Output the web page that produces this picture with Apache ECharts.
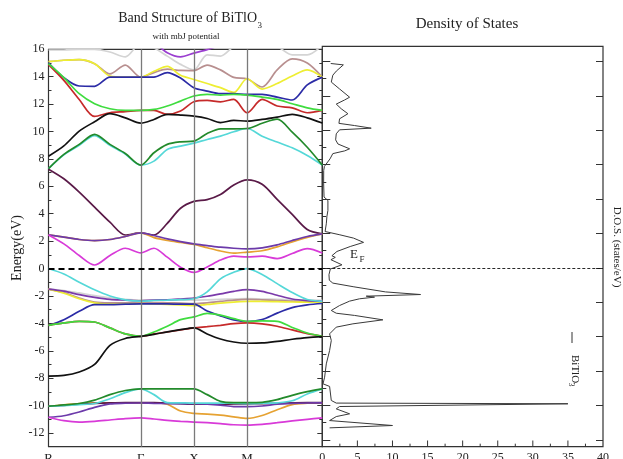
<!DOCTYPE html>
<html>
<head>
<meta charset="utf-8">
<script src="https://cdn.jsdelivr.net/npm/echarts@6.0.0/dist/echarts.min.js"></script>
<style>
  html, body { margin: 0; padding: 0; background: #fff; }
  #main { width: 623px; height: 459px; }
</style>
</head>
<body>
<div id="main"></div>
<script>
// k-path R - Γ - X - M - Γ (simple cubic, units of 2π/a)
const kLabels = ['R', 'Γ', 'X', 'M'];
const kTicks = [0, 0.866, 1.366, 1.866];
const kEnd = 2.573;
const kPts = [0, 0.1443, 0.2887, 0.433, 0.5774, 0.7217, 0.866, 0.991, 1.116, 1.241, 1.366,
  1.491, 1.616, 1.741, 1.866, 2.0074, 2.1488, 2.2902, 2.4316, 2.573];

// semicore bands (-9 .. -11.5 eV)
const semiMagenta = [-10.85, -11.1, -11.2, -11.15, -11.05, -10.95, -10.9, -10.98, -11.08, -11.15, -11.2, -11.25, -11.32, -11.4, -11.43, -11.37, -11.25, -11.12, -11.0, -10.9];
const semiViolet = [-10.85, -10.74, -10.47, -10.13, -9.88, -9.83, -9.81, -9.84, -9.85, -9.85, -9.86, -9.9, -9.97, -10.07, -10.08, -10.03, -9.9, -9.84, -9.81, -9.8];
const semiMaroon = [-10.05, -9.98, -9.9, -9.84, -9.8, -9.78, -9.78, -9.79, -9.82, -9.86, -9.9, -9.9, -9.9, -9.88, -9.87, -9.85, -9.83, -9.8, -9.78, -9.78];
const semiOrange = [-10.05, -9.95, -9.85, -9.8, -9.8, -9.8, -9.8, -9.8, -9.9, -10.4, -10.57, -10.62, -10.7, -10.82, -10.93, -10.72, -10.3, -9.93, -9.83, -9.8];
const semiCyan = [-10.05, -10.0, -9.93, -9.85, -9.5, -9.05, -8.78, -9.2, -9.78, -9.8, -9.82, -9.82, -9.82, -9.83, -9.85, -9.83, -9.8, -9.65, -9.15, -8.78];
const semiGreen = [-10.05, -9.95, -9.85, -9.6, -9.2, -8.9, -8.78, -8.78, -8.78, -8.78, -8.78, -9.2, -9.69, -9.78, -9.78, -9.76, -9.57, -9.25, -8.98, -8.78];

// valence bands
const valBlack = [-7.85, -7.8, -7.55, -7.0, -5.6, -5.1, -4.95, -4.8, -4.62, -4.46, -4.33, -4.77, -5.14, -5.36, -5.45, -5.43, -5.31, -5.16, -5.04, -4.97];
const valRed = [-4.15, -3.97, -3.85, -3.9, -4.33, -4.77, -4.95, -4.77, -4.63, -4.48, -4.33, -4.24, -4.14, -4.02, -3.97, -4.04, -4.21, -4.48, -4.75, -4.94];
const valGreen = [-4.15, -3.97, -3.85, -3.9, -4.33, -4.77, -4.95, -4.63, -4.21, -3.73, -3.53, -3.27, -3.4, -3.65, -3.85, -3.82, -3.85, -4.3, -4.7, -4.94];
const valBlue = [-4.15, -3.73, -3.12, -2.63, -2.63, -2.6, -2.58, -2.58, -2.58, -2.6, -2.6, -3.1, -3.45, -3.75, -3.88, -3.72, -3.25, -2.85, -2.65, -2.55];
const valYellow = [-1.5, -1.8, -2.2, -2.5, -2.6, -2.58, -2.55, -2.58, -2.62, -2.66, -2.7, -2.62, -2.52, -2.45, -2.4, -2.4, -2.42, -2.44, -2.45, -2.45];
const valBrown = [-1.5, -1.75, -2.15, -2.45, -2.5, -2.5, -2.48, -2.48, -2.5, -2.52, -2.55, -2.5, -2.4, -2.3, -2.25, -2.28, -2.33, -2.38, -2.4, -2.42];
const valGrey = [-1.5, -1.6, -1.78, -1.97, -2.13, -2.25, -2.3, -2.3, -2.3, -2.3, -2.3, -2.28, -2.25, -2.22, -2.2, -2.22, -2.25, -2.28, -2.3, -2.32];
const valViolet = [-1.5, -1.65, -1.9, -2.1, -2.25, -2.3, -2.35, -2.3, -2.28, -2.22, -2.15, -2.02, -1.85, -1.66, -1.54, -1.66, -1.95, -2.22, -2.34, -2.39];
const valCyan = [0, -0.4, -1.0, -1.55, -2.0, -2.28, -2.38, -2.33, -2.3, -2.27, -2.2, -1.7, -0.75, -0.27, 0, -0.43, -1.1, -1.75, -2.26, -2.39];

// conduction bands
const conMagenta = [2.45, 1.8, 0.95, 0.26, 0.95, 1.48, 1.14, 1.48, 0.83, 0.1, -0.28, 0.12, 0.62, 0.9, 0.85, 0.9, 0.73, 1.1, 1.46, 1.14];
const conOrange = [2.46, 2.29, 2.12, 2.04, 2.12, 2.34, 2.6, 2.26, 2.05, 1.9, 1.76, 1.52, 1.28, 1.12, 1.2, 1.3, 1.58, 1.95, 2.28, 2.53];
const conIndigo = [2.46, 2.29, 2.12, 2.04, 2.12, 2.34, 2.6, 2.41, 2.17, 1.97, 1.8, 1.68, 1.56, 1.48, 1.44, 1.51, 1.73, 2.05, 2.34, 2.53];
const conMaroon = [7.25, 6.55, 5.58, 4.48, 3.38, 2.45, 2.6, 2.45, 3.3, 4.4, 4.9, 5.03, 5.4, 6.1, 6.47, 6.15, 5.05, 3.95, 2.85, 2.53];
const conGreen4 = [7.3, 8.33, 9.06, 9.79, 9.06, 8.4, 7.55, 8.45, 9.06, 9.25, 9.3, 9.85, 10.2, 10.2, 10.22, 10.6, 10.9, 9.95, 8.85, 7.55];
const conCyan = [7.3, 8.3, 9.0, 9.7, 9.0, 8.35, 7.55, 7.84, 8.69, 8.93, 9.15, 9.42, 9.66, 9.98, 10.22, 9.66, 9.23, 8.81, 8.25, 7.55];
const conBlack = [8.2, 8.95, 10.03, 10.71, 11.3, 11.0, 10.61, 10.88, 11.25, 11.2, 11.12, 10.95, 10.65, 10.81, 10.76, 10.88, 11.05, 11.25, 11.0, 10.62];
const conRed = [14.88, 13.73, 12.34, 11.1, 11.37, 11.45, 11.55, 11.54, 11.25, 11.49, 12.17, 12.27, 12.17, 12.34, 11.37, 12.34, 11.86, 11.73, 11.37, 11.54];
const conGreen = [14.95, 13.93, 12.76, 12.03, 11.66, 11.54, 11.54, 11.61, 11.86, 12.22, 12.59, 12.71, 12.66, 12.71, 12.66, 12.51, 12.34, 12.03, 11.73, 11.54];
const conBlue = [15.02, 13.93, 13.32, 13.3, 13.97, 13.97, 13.97, 13.97, 14.3, 13.9, 13.2, 12.95, 12.76, 12.76, 12.71, 12.71, 12.51, 12.3, 13.4, 13.97];
const conYellow = [15.1, 15.2, 15.25, 14.95, 14.05, 13.97, 13.97, 14.4, 14.75, 14.1, 13.8, 13.5, 13.2, 12.85, 13.85, 13.1, 13.5, 14.05, 14.5, 13.97];
const conBrown = [15.1, 15.2, 15.25, 14.95, 14.2, 14.85, 13.97, 14.3, 14.55, 14.46, 14.45, 14.85, 14.5, 13.95, 13.85, 13.25, 14.5, 15.3, 15.0, 13.97];
const conGrey = [15.95, 15.95, 16.0, 16.0, 15.8, 15.45, 16.4, 16.1, 15.5, 14.9, 14.5, 15.6, 15.5, 16.2, 16.5, 16.4, 16.2, 15.6, 15.6, 16.3];
const conViolet = [17, 17, 17, 17, 17, 17, 17, 16.5, 15.75, 15.45, 15.72, 15.98, 16.3, 16.6, 17, 17, 17, 17, 17, 17];

// total DOS: [energy (eV), states/eV]
const dosCurve = [
  [14.85, 1.2], [14.75, 3.0], [14.3, 2.0], [14.0, 1.5], [13.5, 1.28], [13.0, 2.46], [12.4, 3.89],
  [12.2, 3.18], [11.9, 1.99], [11.56, 2.7], [11.2, 3.65], [10.83, 2.46], [10.5, 2.37], [10.34, 4.6],
  [10.15, 6.97], [10.03, 2.46], [9.74, 1.99], [9.3, 1.9], [9.0, 2.23], [8.65, 3.89], [8.5, 3.2],
  [8.3, 1.5], [7.92, 1.1], [7.37, 0.3], [7.07, 0.2], [6.16, 0.19], [5.14, 0.25], [4.9, 0.8],
  [4.17, 0.8], [3.74, 0.66], [3.2, 0.57], [2.64, 0.4], [2.4, 2.5], [2.16, 4.45], [1.85, 5.88],
  [1.55, 3.98], [1.19, 2.09], [0.88, 1.37], [0.76, 1.85], [0.59, 1.23], [0.22, 2.8], [-0.09, 1.14],
  [-0.5, 0.95], [-0.9, 1.0], [-1.11, 1.5], [-1.38, 4.5], [-1.75, 9.0], [-1.94, 14.0], [-2.06, 6.26],
  [-2.13, 7.44], [-2.25, 5.31], [-2.42, 3.89], [-2.74, 2.46], [-3.1, 1.28], [-3.3, 1.99], [-3.46, 4.6],
  [-3.78, 8.63], [-4.07, 4.36], [-4.31, 1.99], [-4.8, 1.04], [-5.28, 1.28], [-6.01, 1.04], [-6.98, 0.57],
  [-7.95, 0.33], [-8.43, 0.1], [-8.62, 1.04], [-9.64, 1.28], [-9.83, 1.99], [-9.88, 35.0], [-10.08, 2.46],
  [-10.25, 1.99], [-10.61, 3.89], [-10.81, 1.99], [-11.1, 1.04], [-11.46, 10.0], [-11.63, 1.04]
];

// tick values
const energyTicks = [-12, -10, -8, -6, -4, -2, 0, 2, 4, 6, 8, 10, 12, 14, 16];
const energyMinor = [-11, -9, -7, -5, -3, -1, 1, 3, 5, 7, 9, 11, 13, 15];
const dosEnergyTicks = [-12.5, -10, -7.5, -5, -2.5, 0, 2.5, 5, 7.5, 10, 12.5, 15];
const dosEnergyMinor = [-11.25, -8.75, -6.25, -3.75, -1.25, 1.25, 3.75, 6.25, 8.75, 11.25, 13.75];
const dosTicks = [5, 10, 15, 20, 25, 30, 35];
const dosMinor = [2.5, 7.5, 12.5, 17.5, 22.5, 27.5, 32.5, 37.5];

const SERIF = 'Liberation Serif';
const TICK = '#333';
const DOS_EMIN = -13;

const bands = [
  [conGrey, '#d4d4d4'], [conViolet, '#9b3fd0'], [conBrown, '#b88f8f'], [conYellow, '#eeee33'],
  [conBlue, '#2b2ba6'], [conRed, '#c62a2a'], [conGreen, '#3fdc3f'], [conBlack, '#111111'],
  [conCyan, '#55d8d8'], [conGreen4, '#238a2b'], [conMaroon, '#5a1a48'], [conOrange, '#e6a232'],
  [conIndigo, '#6c3aaa'], [conMagenta, '#d83ad8'],
  [valGrey, '#d4d4d4'], [valBrown, '#b88f8f'], [valYellow, '#eeee33'], [valViolet, '#7a3aaa'],
  [valCyan, '#55d8d8'], [valBlue, '#2b2ba6'], [valRed, '#c62a2a'], [valGreen, '#3fdc3f'],
  [valBlack, '#111111'],
  [semiOrange, '#e6a232'], [semiMaroon, '#5a1a48'], [semiViolet, '#6c3aaa'], [semiCyan, '#55d8d8'],
  [semiGreen, '#238a2b'], [semiMagenta, '#d83ad8']
];

function tickAxis(gridIndex, position, values, len, min, max) {
  return {
    type: 'value', gridIndex: gridIndex, position: position, min: min, max: max,
    axisLine: { show: false }, splitLine: { show: false },
    axisLabel: { show: false },
    axisTick: { show: true, inside: true, length: len, customValues: values, lineStyle: { color: TICK, width: 1 } }
  };
}

let series = [];
// high-symmetry verticals
series.push({
  type: 'line', xAxisIndex: 0, yAxisIndex: 0, data: [], silent: true,
  markLine: {
    symbol: 'none', silent: true, animation: false, label: { show: false },
    lineStyle: { color: '#7a7a7a', width: 1.3, type: 'solid' },
    data: kTicks.slice(1).map(k => ({ xAxis: k }))
  }
});
bands.forEach(function (b) {
  series.push({
    type: 'line', xAxisIndex: 0, yAxisIndex: 0, smooth: 0.3,
    symbol: 'none', silent: true,
    lineStyle: { color: b[1], width: 1.7 },
    itemStyle: { color: b[1] },
    data: kPts.map((k, i) => [k, b[0][i]])
  });
});
// Fermi level, band panel
series.push({
  type: 'line', xAxisIndex: 0, yAxisIndex: 0, data: [], silent: true,
  markLine: {
    symbol: 'none', silent: true, animation: false, label: { show: false },
    lineStyle: { color: '#000', width: 1.8, type: [6, 4] },
    data: [{ yAxis: 0 }]
  }
});
// DOS
series.push({
  type: 'line', xAxisIndex: 1, yAxisIndex: 4, symbol: 'none', silent: true,
  lineStyle: { color: '#3a3a3a', width: 1 },
  data: dosCurve.map(p => [p[1], p[0]]),
  markLine: {
    symbol: 'none', silent: true, animation: false, label: { show: false },
    lineStyle: { color: '#111', width: 0.9, type: [3, 2] },
    data: [{ yAxis: 0 }]
  }
});
// DOS bottom ticks pointing up into the panel (short segments, broken by empty points)
function tickSegs(values, len) {
  let out = [];
  values.forEach(v => { out.push([v, DOS_EMIN], [v, DOS_EMIN + len], [v, '-']); });
  return out;
}
series.push({
  type: 'line', xAxisIndex: 1, yAxisIndex: 4, symbol: 'none', silent: true, clip: false,
  connectNulls: false,
  lineStyle: { color: TICK, width: 1 },
  data: tickSegs(dosTicks, 0.45).concat(tickSegs(dosMinor, 0.22))
});

const chart = echarts.init(document.getElementById('main'));
chart.setOption({
  animation: false,
  backgroundColor: '#fff',
  grid: [
    { left: 48.5, right: 300.7, top: 49.3, bottom: 12.3, outerBoundsMode: 'none', containLabel: false, show: true, borderColor: '#333', borderWidth: 1.2 },
    { left: 322.3, right: 20, top: 46.3, bottom: 12.3, outerBoundsMode: 'none', containLabel: false, show: true, borderColor: '#333', borderWidth: 1.2 }
  ],
  xAxis: [
    {
      type: 'value', gridIndex: 0, min: 0, max: kEnd,
      axisLine: { show: false, onZero: false }, axisTick: { show: false }, splitLine: { show: false },
      axisLabel: {
        customValues: kTicks, margin: 5, color: '#222', fontFamily: SERIF, fontSize: 13,
        formatter: v => kLabels[kTicks.findIndex(t => Math.abs(t - v) < 1e-6)]
      }
    },
    {
      type: 'value', gridIndex: 1, min: 0, max: 40, interval: 5,
      axisLine: { show: false, onZero: false }, splitLine: { show: false },
      axisTick: { show: false },
      axisLabel: { margin: 5, color: '#222', fontFamily: SERIF, fontSize: 12 }
    }
  ],
  yAxis: [
    {
      type: 'value', gridIndex: 0, position: 'left', min: -13, max: 16,
      axisLine: { show: false, onZero: false }, splitLine: { show: false },
      axisTick: { show: true, inside: true, length: 5, customValues: energyTicks, lineStyle: { color: TICK } },
      axisLabel: { customValues: energyTicks, margin: 4, color: '#222', fontFamily: SERIF, fontSize: 12 },
      name: 'Energy(eV)', nameLocation: 'middle', nameGap: 24, nameRotate: 90,
      nameTextStyle: { fontFamily: SERIF, fontSize: 14, color: '#222' }
    },
    tickAxis(0, 'left', energyMinor, 3, -13, 16),
    tickAxis(0, 'right', energyTicks, 5, -13, 16),
    tickAxis(0, 'right', energyMinor, 3, -13, 16),
    {
      type: 'value', gridIndex: 1, position: 'left', min: DOS_EMIN, max: 16.1,
      axisLine: { show: false, onZero: false }, splitLine: { show: false }, axisLabel: { show: false },
      axisTick: { show: true, inside: true, length: 8, customValues: dosEnergyTicks, lineStyle: { color: TICK } }
    },
    tickAxis(1, 'left', dosEnergyMinor, 4, DOS_EMIN, 16.1),
    tickAxis(1, 'right', dosEnergyTicks, 7, DOS_EMIN, 16.1)
  ],
  series: series,
  graphic: [
    { type: 'text', style: { text: 'Band Structure of BiTlO', x: 257, y: 18.5, textAlign: 'right', textVerticalAlign: 'middle', font: '14px "Liberation Serif"', fill: '#222' } },
    { type: 'text', style: { text: '3', x: 257.5, y: 26, textAlign: 'left', textVerticalAlign: 'middle', font: '9px "Liberation Serif"', fill: '#222' } },
    { type: 'text', style: { text: 'with mbJ potential', x: 186, y: 37, textAlign: 'center', textVerticalAlign: 'middle', font: '9px "Liberation Serif"', fill: '#222' } },
    { type: 'text', style: { text: 'Density of States', x: 467, y: 24, textAlign: 'center', textVerticalAlign: 'middle', font: '15px "Liberation Serif"', fill: '#222' } },
    { type: 'text', style: { text: 'E', x: 350, y: 254.5, textAlign: 'left', textVerticalAlign: 'middle', font: '13px "Liberation Serif"', fill: '#222' } },
    { type: 'text', style: { text: 'F', x: 359.5, y: 260, textAlign: 'left', textVerticalAlign: 'middle', font: '9px "Liberation Serif"', fill: '#222' } },
    { type: 'text', rotation: -Math.PI / 2, x: 617, y: 247, style: { text: 'D.O.S. (states/eV)', x: 0, y: 0, textAlign: 'center', textVerticalAlign: 'middle', font: '11px "Liberation Serif"', fill: '#222' } },
    { type: 'line', shape: { x1: 572, y1: 332, x2: 572, y2: 343 }, style: { stroke: '#333', lineWidth: 1 } },
    {
      type: 'group', x: 575, y: 355, rotation: -Math.PI / 2,
      children: [
        { type: 'text', style: { text: 'BiTlO', x: 0, y: 0, textAlign: 'left', textVerticalAlign: 'middle', font: '11px "Liberation Serif"', fill: '#222' } },
        { type: 'text', style: { text: '3', x: 27.5, y: 4, textAlign: 'left', textVerticalAlign: 'middle', font: '8px "Liberation Serif"', fill: '#222' } }
      ]
    }
  ]
});
</script>
</body>
</html>
